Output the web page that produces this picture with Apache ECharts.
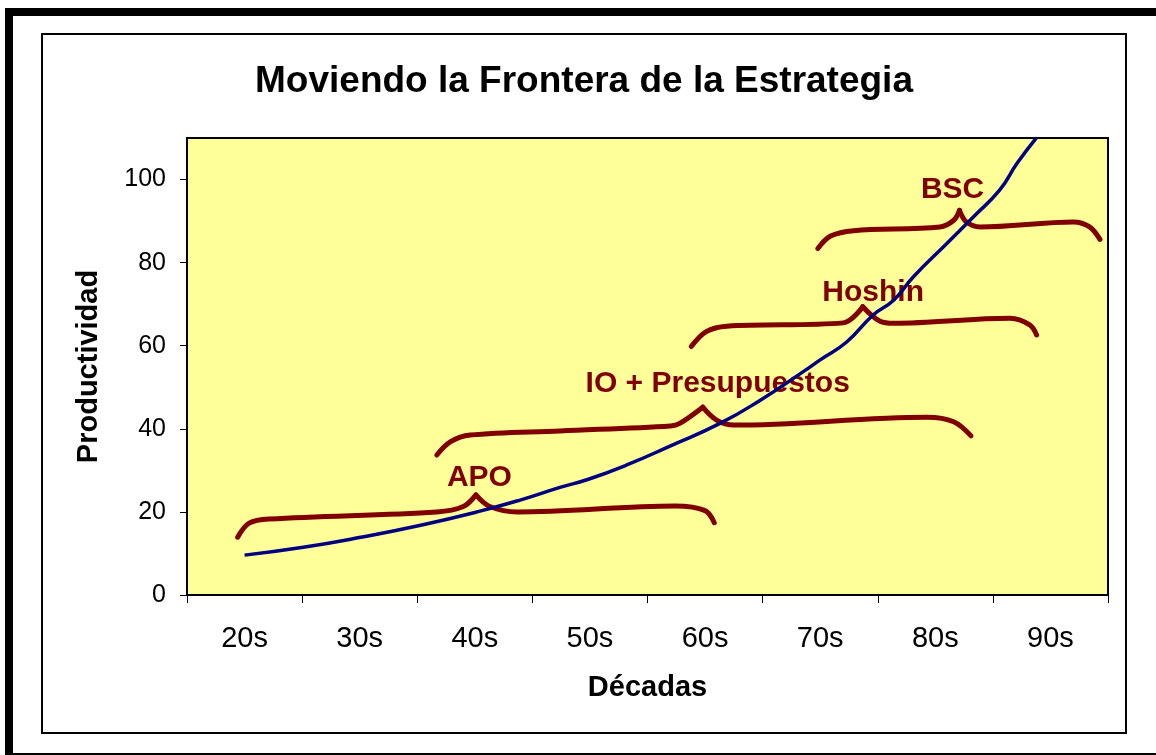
<!DOCTYPE html>
<html>
<head>
<meta charset="utf-8">
<title>Moviendo la Frontera de la Estrategia</title>
<script src="https://cdn.jsdelivr.net/npm/echarts@6/dist/echarts.min.js"></script>
<style>
  html, body { margin: 0; padding: 0; background: #fff; }
  #chart { width: 1156px; height: 755px; }
</style>
</head>
<body>
<div id="chart"></div>
<script>
const decadas = ["20s", "30s", "40s", "50s", "60s", "70s", "80s", "90s"];
const yTicks = [0, 20, 40, 60, 80, 100];

// curva de productividad (año, valor)
const curvaAnios = [1925, 1930.1, 1935.1, 1940.3, 1945.2, 1949, 1952.4, 1954.8, 1958.2, 1962, 1966.3,
  1969.8, 1973.5, 1975, 1977.3, 1979.6, 1981.4, 1983.1, 1986, 1988.3, 1990.6, 1992.1, 1993.8];
const curvaValores = [9.6, 11.5, 13.9, 16.8, 20.0, 22.9, 25.9, 27.8, 31.3, 35.9, 41.3,
  46.9, 53.7, 56.6, 60.9, 67.4, 71.0, 76.6, 84.6, 91.0, 97.5, 103.9, 110.1];

// llaves (año, valor)
const llaveAPO = [[1924.4, 13.9], [1925.4, 17.3], [1927.2, 18.3], [1941.7, 20.0], [1944.0, 21.3], [1945.1, 24.1],
  [1946.3, 21.3], [1948.7, 20.0], [1962.4, 21.4], [1965.0, 20.3], [1965.8, 17.4]];
const llaveIO = [[1941.7, 33.7], [1942.9, 36.9], [1944.6, 38.5], [1952.4, 39.5], [1962.0, 40.7], [1962.8, 41.3],
  [1964.8, 45.2], [1966.0, 42.1], [1967.5, 40.9], [1984.3, 42.8], [1986.6, 41.7], [1988.1, 38.3]];
const llaveHoshin = [[1963.8, 59.8], [1965.1, 63.4], [1966.9, 64.7], [1977.0, 65.5], [1978.7, 69.4],
  [1980.2, 65.9], [1981.4, 65.4], [1991.5, 66.6], [1993.2, 65.0], [1993.8, 62.6]];
const llaveBSC = [[1974.8, 83.4], [1975.9, 86.4], [1977.9, 87.7], [1985.4, 88.6], [1986.6, 90.2], [1987.1, 92.6],
  [1987.7, 89.8], [1988.9, 88.6], [1997.0, 89.8], [1998.4, 88.6], [1999.3, 85.6]];

const etiquetas = ["APO", "IO + Presupuestos", "Hoshin", "BSC"];
const etiquetaAnios = [1945.4, 1966.1, 1979.6, 1986.5];
const etiquetaValores = [28.2, 50.8, 72.8, 97.6];

const fuente = "'Liberation Sans', Arial, sans-serif";
const rojo = "#800000";

const series = [];
[llaveAPO, llaveIO, llaveHoshin, llaveBSC].forEach(ll => {
  let pico = 0;
  ll.forEach((p, i) => {
    if (p[1] > ll[pico][1]) pico = i;
  });
  // cada mitad por separado para mantener la punta
  [ll.slice(0, pico + 1), ll.slice(pico)].forEach(mitad => {
    series.push({
      type: "line",
      xAxisIndex: 1,
      data: mitad,
      smooth: 0.35,
      symbol: "none",
      silent: true,
      z: 3,
      lineStyle: { color: rojo, width: 5, cap: "round", join: "round" }
    });
  });
});

series.push({
  type: "scatter",
  xAxisIndex: 1,
  symbolSize: 1,
  silent: true,
  z: 4,
  itemStyle: { color: "transparent", opacity: 1 },
  data: etiquetas.map((t, i) => ({ name: t, value: [etiquetaAnios[i], etiquetaValores[i]] })),
  label: {
    show: true,
    position: "inside",
    formatter: "{b}",
    color: rojo,
    opacity: 1,
    textBorderWidth: 0,
    fontSize: 30,
    fontWeight: "bold",
    fontFamily: fuente
  }
});

series.push({
  type: "line",
  xAxisIndex: 1,
  data: curvaAnios.map((a, i) => [a, curvaValores[i]]),
  smooth: true,
  symbol: "none",
  silent: true,
  z: 5,
  lineStyle: { color: "#000080", width: 3.5 }
});

const option = {
  animation: false,
  title: {
    text: "Moviendo la Frontera de la Estrategia",
    left: 584,
    top: 63,
    textAlign: "center",
    padding: 0,
    textStyle: { fontSize: 37, fontWeight: "bold", color: "#000", fontFamily: fuente }
  },
  graphic: [
    {
      type: "rect",
      silent: true,
      shape: { x: 9, y: 12, width: 1200, height: 745 },
      style: { fill: "none", stroke: "#000", lineWidth: 8 }
    },
    {
      type: "rect",
      silent: true,
      shape: { x: 42, y: 34, width: 1084, height: 699 },
      style: { fill: "none", stroke: "#000", lineWidth: 2 }
    }
  ],
  grid: {
    left: 187,
    top: 138,
    right: 48,
    bottom: 160,
    show: true,
    backgroundColor: "#FFFF99",
    borderColor: "#000",
    borderWidth: 2
  },
  xAxis: [
    {
      type: "category",
      data: decadas,
      boundaryGap: true,
      axisLine: { show: true, lineStyle: { color: "#000", width: 2 } },
      axisTick: { show: true, length: 8, lineStyle: { color: "#000" } },
      axisLabel: { fontSize: 29, color: "#000", margin: 29, fontFamily: fuente },
      name: "Décadas",
      nameLocation: "middle",
      nameGap: 78,
      nameTextStyle: { fontSize: 29, fontWeight: "bold", color: "#000", fontFamily: fuente }
    },
    {
      type: "value",
      min: 1920,
      max: 2000,
      show: false
    }
  ],
  yAxis: {
    type: "value",
    min: 0,
    max: 110,
    interval: 20,
    axisLine: { show: true, lineStyle: { color: "#000", width: 2 } },
    axisTick: { show: true, length: 7, customValues: yTicks, lineStyle: { color: "#000" } },
    axisLabel: {
      customValues: yTicks,
      fontSize: 25,
      color: "#000",
      margin: 21,
      fontFamily: fuente
    },
    splitLine: { show: false },
    name: "Productividad",
    nameLocation: "middle",
    nameGap: 84,
    nameTextStyle: { fontSize: 29, fontWeight: "bold", color: "#000", fontFamily: fuente }
  },
  series
};

const chart = echarts.init(document.getElementById("chart"));
chart.setOption(option);
</script>
</body>
</html>
